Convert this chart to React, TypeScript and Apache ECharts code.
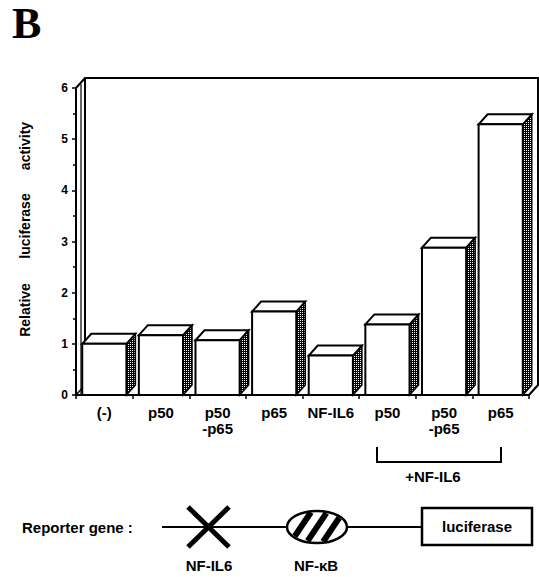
import React, { useEffect, useRef } from "react";
import * as echarts from "echarts";

const categories = ["(-)", "p50", "p50\n-p65", "p65", "NF-IL6", "p50", "p50\n-p65", "p65"];
const activity = [1.0, 1.17, 1.07, 1.63, 0.77, 1.38, 2.88, 5.29];
const yMin = 0;
const yMax = 6;
const yStep = 1;

const FONT = "'Liberation Sans', Arial, Helvetica, sans-serif";
const L = 76, T = 88, R = 529, B = 395;
const DX = 9, DY = -10;

function chord(cx: number, cy: number, rx: number, ry: number, o: number, ang: number, k: number) {
  const c = Math.cos(ang), s = Math.sin(ang);
  const A = (c * c) / (rx * rx) + (s * s) / (ry * ry);
  const Bq = (2 * o * c) / (rx * rx);
  const C = (o * o) / (rx * rx) - 1;
  const d = Math.sqrt(Bq * Bq - 4 * A * C);
  const tm = -Bq / (2 * A);
  const h = (d / (2 * A)) * k;
  const t1 = tm - h, t2 = tm + h;
  return [
    [cx + o + t1 * c, cy - t1 * s],
    [cx + o + t2 * c, cy - t2 * s],
  ];
}

export default function App() {
  const ref = useRef<HTMLDivElement>(null);
  useEffect(() => {
    if (!ref.current) return;
    const chart = echarts.init(ref.current, null, { renderer: "svg" });
    const tile =
      "data:image/svg+xml;utf8," +
      encodeURIComponent(
        '<svg xmlns="http://www.w3.org/2000/svg" width="2" height="2"><rect width="2" height="2" fill="#000"/><rect x="0" y="0" width="1" height="1" fill="#fff"/></svg>'
      );
    const pattern: any = { image: tile, repeat: "repeat", imageWidth: 2, imageHeight: 2 };

    const lineY = 527;
    const ex = 317, ey = lineY, erx = 30, ery = 16;
    const stripes = [-16, 0, 16].map((o) => ({
      type: "line",
      z: 2,
      shape: (() => {
        const p = chord(ex, ey, erx, ery, o, (56 * Math.PI) / 180, 0.92);
        return { x1: p[0][0], y1: p[0][1], x2: p[1][0], y2: p[1][1] };
      })(),
      style: { stroke: "#000", lineWidth: 6 },
    }));

    const txt = (text: string, x: number, y: number, size: number, extra: any = {}) => ({
      type: "text",
      x,
      y,
      z: 3,
      style: {
        text,
        fill: "#000",
        font: `bold ${size}px ${FONT}`,
        align: "center",
        verticalAlign: "middle",
        ...extra,
      },
    });

    const option: any = {
      animation: false,
      grid: { left: L, top: T, right: 539 - R, bottom: 577 - B, containLabel: false },
      xAxis: {
        type: "category",
        data: categories,
        axisLine: { show: true, lineStyle: { color: "#000", width: 2 } },
        axisTick: { show: true, length: 4, alignWithLabel: false, lineStyle: { color: "#000", width: 1.5 } },
        axisLabel: {
          interval: 0,
          color: "#000",
          fontFamily: FONT,
          fontWeight: "bold",
          fontSize: 15,
          lineHeight: 16,
          margin: 9,
        },
        splitLine: { show: false },
      },
      yAxis: {
        type: "value",
        min: yMin,
        max: yMax,
        interval: yStep,
        axisLine: { show: true, lineStyle: { color: "#000", width: 2 } },
        axisTick: { show: true, length: 4, lineStyle: { color: "#000", width: 1.5 } },
        minorTick: { show: true, splitNumber: 2, length: 3, lineStyle: { color: "#000", width: 1.5 } },
        splitLine: { show: false },
        axisLabel: { color: "#000", fontFamily: FONT, fontWeight: "bold", fontSize: 12, margin: 8 },
      },
      graphic: [
        // 3D frame
        {
          type: "polyline",
          z: 0,
          shape: { points: [[L, T], [L + DX, T + DY], [R + DX, T + DY], [R + DX, B + DY], [R, B]] },
          style: { stroke: "#000", lineWidth: 2, fill: "none" },
        },
        {
          type: "line",
          z: 0,
          shape: { x1: L + DX, y1: T + DY, x2: L + DX, y2: B + DY },
          style: { stroke: "#000", lineWidth: 2 },
        },
        {
          type: "line",
          z: 0,
          shape: { x1: L + 5, y1: T - 4, x2: L + 5, y2: B },
          style: { stroke: "#000", lineWidth: 1.2 },
        },
        { type: "line", z: 0, shape: { x1: L, y1: B, x2: L + DX, y2: B + DY }, style: { stroke: "#000", lineWidth: 1.5 } },
        // panel letter
        {
          type: "text",
          x: 12,
          y: 23,
          z: 3,
          style: { text: "B", fill: "#000", font: "bold 44px 'Liberation Serif', 'Times New Roman', serif", align: "left", verticalAlign: "middle" },
        },
        // y-axis title words
        { ...txt("Relative", 25, 310, 14), rotation: Math.PI / 2 },
        { ...txt("luciferase", 25, 226, 14), rotation: Math.PI / 2 },
        { ...txt("activity", 25, 146, 14), rotation: Math.PI / 2 },
        // bracket
        {
          type: "polyline",
          z: 2,
          shape: { points: [[377, 447], [377, 462], [501, 462], [501, 447]] },
          style: { stroke: "#000", lineWidth: 2, fill: "none" },
        },
        txt("+NF-IL6", 433, 476, 15),
        // reporter gene diagram
        txt("Reporter gene :", 22, lineY, 15, { align: "left" }),
        { type: "line", z: 1, shape: { x1: 162, y1: lineY, x2: 422, y2: lineY }, style: { stroke: "#000", lineWidth: 2 } },
        { type: "line", z: 2, shape: { x1: 188, y1: lineY - 20, x2: 229, y2: lineY + 20 }, style: { stroke: "#000", lineWidth: 5 } },
        { type: "line", z: 2, shape: { x1: 229, y1: lineY - 20, x2: 188, y2: lineY + 20 }, style: { stroke: "#000", lineWidth: 5 } },
        txt("NF-IL6", 209, 565, 15),
        { type: "ellipse", z: 1.5, shape: { cx: ex, cy: ey, rx: erx, ry: ery }, style: { fill: "#fff", stroke: "none" } },
        ...stripes,
        { type: "ellipse", z: 2.5, shape: { cx: ex, cy: ey, rx: erx, ry: ery }, style: { fill: "none", stroke: "#000", lineWidth: 2.5 } },
        txt("NF-\u03baB", 316, 565, 15),
        { type: "rect", z: 2, shape: { x: 422, y: 508, width: 110, height: 37 }, style: { fill: "#fff", stroke: "#000", lineWidth: 2.5 } },
        txt("luciferase", 477, 526, 15),
      ],
      series: [
        {
          type: "custom",
          z: 5,
          data: activity.map((v, i) => [i, v]),
          encode: { x: 0, y: 1 },
          renderItem: (params: any, api: any) => {
            const i = api.value(0);
            const v = api.value(1);
            const top = api.coord([i, v]);
            const base = api.coord([i, 0]);
            const bw = api.size([1, 0])[0] * 0.78;
            const l = top[0] - bw / 2;
            const r = top[0] + bw / 2;
            const ty = top[1];
            const by = base[1];
            return {
              type: "group",
              children: [
                {
                  type: "polygon",
                  shape: { points: [[r, ty], [r + DX, ty + DY], [r + DX, by + DY], [r, by]] },
                  style: { fill: pattern, stroke: "#000", lineWidth: 1.5 },
                },
                {
                  type: "polygon",
                  shape: { points: [[l, ty], [l + DX, ty + DY], [r + DX, ty + DY], [r, ty]] },
                  style: { fill: "#fff", stroke: "#000", lineWidth: 2 },
                },
                {
                  type: "rect",
                  shape: { x: l, y: ty, width: bw, height: by - ty },
                  style: { fill: "#fff", stroke: "#000", lineWidth: 2 },
                },
              ],
            };
          },
        },
      ],
    };
    chart.setOption(option);
    return () => chart.dispose();
  }, []);
  return <div ref={ref} style={{ position: "absolute", left: 0, top: 0, width: 539, height: 577 }} />;
}
